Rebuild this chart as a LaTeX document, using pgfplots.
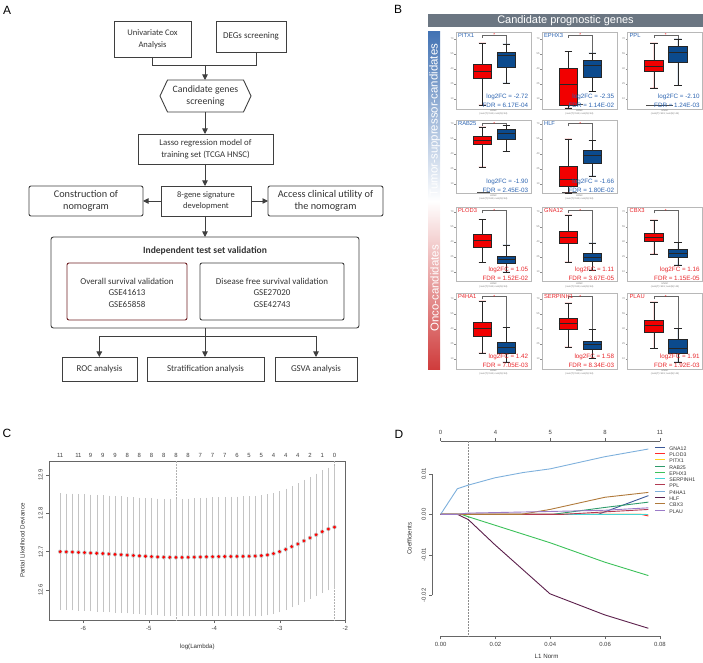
\documentclass[border=0pt]{standalone}
\usepackage{fontspec}
\setmainfont{Liberation Sans}
\newfontfamily\calfont{Carlito}
\usepackage{pgfplots}
\usepackage{pgfplotstable}
\pgfplotsset{compat=1.18}
\usepgfplotslibrary{statistics}
\usetikzlibrary{arrows.meta}

\definecolor{flow}{HTML}{3F3F3F}
\definecolor{ftext}{HTML}{333333}
\definecolor{osred}{HTML}{6E1F22}
\definecolor{hdr}{HTML}{6B7682}
\definecolor{barblue}{HTML}{4373B4}
\definecolor{barred}{HTML}{CF3B3B}
\definecolor{tsblue}{HTML}{2B63B0}
\definecolor{oncored}{HTML}{E8262B}
\definecolor{boxred}{HTML}{F20000}
\definecolor{boxblue}{HTML}{0B4A8D}
\definecolor{errgray}{HTML}{C4C4C4}
\definecolor{cGNA}{HTML}{3B5998}
\definecolor{cPLOD}{HTML}{FF2A2A}
\definecolor{cPITX}{HTML}{FFD21F}
\definecolor{cRAB}{HTML}{2E9B6B}
\definecolor{cEPHX}{HTML}{3CC15A}
\definecolor{cSERP}{HTML}{45D6D6}
\definecolor{cPPL}{HTML}{B23A52}
\definecolor{cP4HA}{HTML}{7EB0DC}
\definecolor{cHLF}{HTML}{5B1F4B}
\definecolor{cCBX}{HTML}{B0793A}
\definecolor{cPLAU}{HTML}{9B7BC8}

\pgfplotstableread{
x y e
-6.352 12.7000 0.148
-6.259 12.6995 0.148
-6.166 12.6990 0.148
-6.073 12.6982 0.148
-5.980 12.6975 0.148
-5.887 12.6966 0.148
-5.794 12.6958 0.148
-5.701 12.6950 0.148
-5.608 12.6940 0.148
-5.515 12.6930 0.148
-5.422 12.6920 0.148
-5.329 12.6910 0.148
-5.236 12.6900 0.148
-5.143 12.6890 0.148
-5.050 12.6880 0.148
-4.957 12.6870 0.148
-4.864 12.6862 0.148
-4.771 12.6856 0.148
-4.678 12.6852 0.148
-4.585 12.6850 0.148
-4.492 12.6851 0.1484
-4.399 12.6853 0.1488
-4.306 12.6857 0.1492
-4.213 12.6861 0.1496
-4.120 12.6865 0.1500
-4.026 12.6868 0.1504
-3.933 12.6871 0.1508
-3.840 12.6873 0.1512
-3.747 12.6875 0.1516
-3.654 12.6877 0.1520
-3.561 12.6879 0.1524
-3.468 12.6882 0.1528
-3.375 12.6886 0.1530
-3.282 12.6895 0.1532
-3.189 12.6915 0.1535
-3.096 12.6950 0.1537
-3.003 12.7000 0.1540
-2.910 12.7060 0.1542
-2.817 12.7130 0.1545
-2.724 12.7200 0.1547
-2.631 12.7280 0.1550
-2.538 12.7360 0.1552
-2.445 12.7440 0.1555
-2.352 12.7520 0.1557
-2.259 12.7590 0.1560
-2.166 12.7640 0.1560
}\cvdata

\pgfplotsset{
 gp/.style={scale only axis, width=75bp, anchor=south west, xmin=0, xmax=1, ymin=0, clip=false,
   axis line style={black!28, line width=0.4bp}, xtick=\empty, ytick={10,25,40,55,70},
   ytick pos=left, tick align=outside, major tick length=1.6bp, tick style={black!45, line width=0.3bp},
   yticklabel style={font=\fontsize{2.6}{3}\selectfont, text=black!55, inner sep=0.6bp},
   /pgf/number format/assume math mode=true},
 rbx/.style={draw=black!85, fill=boxred, line width=0.35bp, solid},
 bbx/.style={draw=black!85, fill=boxblue, line width=0.35bp, solid},
 brk/.style={black!60, line width=0.35bp, mark=none, solid},
}
\tikzset{
 gname/.style={anchor=west, inner sep=0pt, font=\fontsize{5.8}{6}\selectfont},
 fcs/.style={anchor=east, inner sep=0pt, font=\fontsize{6.3}{7}\selectfont},
 sub/.style={anchor=north, inner sep=0pt, yshift=-1bp, align=center, text=black!55, font=\fontsize{2.4}{2.8}\selectfont},
 ast/.style={inner sep=0pt, text=red, font=\fontsize{4.5}{5}\selectfont, yshift=-0.6bp},
}
\newcommand{\RB}[5]{\addplot[rbx, boxplot prepared={draw direction=y, draw position=0.35, box extend=0.25, whisker extend=0.1, median=#1, upper quartile=#2, lower quartile=#3, upper whisker=#4, lower whisker=#5}] coordinates {};}
\newcommand{\BB}[5]{\addplot[bbx, boxplot prepared={draw direction=y, draw position=0.67, box extend=0.25, whisker extend=0.1, median=#1, upper quartile=#2, lower quartile=#3, upper whisker=#4, lower whisker=#5}] coordinates {};}
\newcommand{\BRK}[3]{\addplot[brk] coordinates {(0.35,#2) (0.35,#1) (0.67,#1) (0.67,#3)};\node[ast] at (axis cs:0.51,#1) {*};}
\newcommand{\TXT}[4]{%
 \node[gname, text=#1] at (rel axis cs:0.025,0.955) {#2};
 \node[fcs, text=#1] at (rel axis cs:0.965,0.155) {#3};
 \node[fcs, text=#1] at (rel axis cs:0.965,0.05) {#4};
 \node[sub] at (rel axis cs:0.5,0) {HNSC\\(num(T)=519; num(N)=44)};}

\begin{document}
\begin{tikzpicture}
\begin{scope}[x=1bp,y=1bp]
\useasboundingbox (0,0) rectangle (703,660);
\tikzset{fl/.style={draw=flow, line width=0.9bp},
 ar/.style={draw=flow, line width=0.9bp, -{Triangle[length=5.5bp,width=5.5bp]}},
 ft/.style={text=ftext, align=center, inner sep=0pt, font=\calfont\fontsize{8.8}{11.7}\selectfont}}
% panel letters
\node[font=\fontsize{12}{12}\selectfont] at (7,650) {A};
\node[font=\fontsize{12}{12}\selectfont] at (398,651) {B};
\node[font=\fontsize{12}{12}\selectfont] at (7,227) {C};
\node[font=\fontsize{12}{12}\selectfont] at (399,226) {D};
% ---- flowchart ----
\draw[fl] (114,603) rectangle (191,639);
\node[ft, font=\calfont\fontsize{8.6}{12}\selectfont] at (152.5,621) {Univariate Cox\\Analysis};
\draw[fl] (216,608) rectangle (286,639);
\node[ft, font=\calfont\fontsize{9}{11}\selectfont] at (251,623.5) {DEGs screening};
\draw[fl] (152.5,603) -- (152.5,595) -- (256.7,595) -- (256.7,608);
\draw[ar] (205,595) -- (205,580);
\draw[fl] (160,564) -- (167.5,580) -- (243.5,580) -- (251,564) -- (243.5,548) -- (167.5,548) -- cycle;
\node[ft, font=\calfont\fontsize{9.8}{11.7}\selectfont] at (205.5,564) {Candidate genes\\screening};
\draw[ar] (205,548) -- (205,526);
\draw[fl] (138,496) rectangle (273,526);
\node[ft] at (205.5,511) {Lasso regression model of\\training set (TCGA HNSC)};
\draw[ar] (205,496) -- (205,474);
\draw[fl] (161,444) rectangle (251,474);
\node[ft, font=\calfont\fontsize{8.5}{11.5}\selectfont] at (206,459) {8-gene signature\\development};
\draw[fl, rounded corners=2bp] (29,444) rectangle (143,474);
\node[ft, font=\calfont\fontsize{10.3}{12.3}\selectfont] at (86,459) {Construction of\\nomogram};
\draw[fl, rounded corners=2bp] (268,444) rectangle (383,474);
\node[ft, font=\calfont\fontsize{10.3}{12.3}\selectfont] at (325.5,459) {Access clinical utility of\\the nomogram};
\draw[ar] (161,459) -- (143,459);
\draw[ar] (251,459) -- (268,459);
\draw[ar] (205,444) -- (205,423);
\draw[fl, rounded corners=2.5bp] (51,332) rectangle (359,423);
\node[ft, font=\calfont\bfseries\fontsize{9.6}{11}\selectfont] at (205,409) {Independent test set validation};
\draw[line width=0.9bp, draw=osred, rounded corners=2bp] (67,340) rectangle (187,397);
\node[ft, font=\calfont\fontsize{9}{11.6}\selectfont] at (127,367.5) {Overall survival validation\\GSE41613\\GSE65858};
\draw[fl, rounded corners=2bp] (200,340) rectangle (344,397);
\node[ft, font=\calfont\fontsize{9}{11.6}\selectfont] at (272,367.5) {Disease free survival validation\\GSE27020\\GSE42743};
\draw[fl] (205,332) -- (205,324);
\draw[fl] (99.3,324) -- (316,324);
\draw[ar] (99.3,324) -- (99.3,303);
\draw[ar] (205,324) -- (205,303);
\draw[ar] (316,324) -- (316,303);
\draw[fl] (62,279) rectangle (137,303);
\draw[fl] (147,279) rectangle (264,303);
\draw[fl] (275,279) rectangle (357,303);
\node[ft, font=\calfont\fontsize{9}{11}\selectfont] at (99.5,291) {ROC analysis};
\node[ft, font=\calfont\fontsize{9}{11}\selectfont] at (205.5,291) {Stratification analysis};
\node[ft, font=\calfont\fontsize{9}{11}\selectfont] at (316,291) {GSVA analysis};
% ---- panel B decorations ----
\fill[hdr] (428,633) rectangle (703,646);
\node[text=white, font=\fontsize{11}{12}\selectfont] at (565.5,639.3) {Candidate prognostic genes};
\shade[top color=barblue, bottom color=barred, middle color=white] (428,290) rectangle (440,628);
\node[rotate=90, text=white, inner sep=0pt, font=\fontsize{11.5}{12}\selectfont] at (434.6,540) {Tumor-suppressor-candidates};
\node[rotate=90, text=white, inner sep=0pt, font=\fontsize{11.5}{12}\selectfont] at (434.6,371.5) {Onco-candidates};
\end{scope}

% ---- panel B: row 1 ----
\begin{axis}[gp, at={(456bp,551bp)}, height=77bp, ymax=77]
\RB{37.7}{45}{31}{66}{4.3}
\BB{53.7}{57}{42}{65.3}{26}
\BRK{74.3}{71}{65.3}
\TXT{tsblue}{PITX1}{log2FC = -2.72}{FDR = 6.17E-04}
\end{axis}
\begin{axis}[gp, at={(542bp,551bp)}, height=77bp, ymax=77]
\addplot[black!70, line width=0.6bp] coordinates {(0.25,4.5) (0.55,4.5)};
\RB{25.3}{41}{4.3}{57.7}{1}
\BB{43.7}{49.3}{31.7}{56}{17.7}
\BRK{74.3}{71}{56}
\TXT{tsblue}{EPHX3}{log2FC = -2.35}{FDR = 1.14E-02}
\end{axis}
\begin{axis}[gp, at={(627.5bp,551bp)}, height=77bp, ymax=77]
\addplot[black!70, line width=0.6bp] coordinates {(0.25,3.7) (0.6,3.7)};
\RB{42.7}{48.7}{37.7}{66}{21}
\BB{57}{62.7}{47}{70}{23.7}
\BRK{74.3}{71}{70}
\TXT{tsblue}{PPL}{log2FC = -2.10}{FDR = 1.24E-03}
\end{axis}
% ---- row 2 ----
\begin{axis}[gp, at={(456bp,466.3bp)}, height=73.4bp, ymax=73.4]
\addplot[black!70, line width=0.6bp] coordinates {(0.28,1.7) (0.45,1.7)};
\RB{53.4}{57.7}{49.4}{66.7}{26.7}
\BB{61}{64.4}{55}{68.4}{42.4}
\BRK{70.7}{67.4}{68.4}
\TXT{tsblue}{RAB25}{log2FC = -1.90}{FDR = 2.45E-03}
\end{axis}
\begin{axis}[gp, at={(542bp,466.3bp)}, height=73.4bp, ymax=73.4]
\addplot[black!70, line width=0.6bp] coordinates {(0.27,1.5) (0.46,1.5)};
\RB{15}{27.4}{7.7}{55}{1}
\BB{38.4}{43.4}{30.7}{53.4}{17.7}
\BRK{70.7}{67.4}{53.4}
\TXT{tsblue}{HLF}{log2FC = -1.66}{FDR = 1.80E-02}
\end{axis}
% ---- row 3 ----
\begin{axis}[gp, at={(456bp,378.3bp)}, height=74.4bp, ymax=74.4]
\RB{41.7}{47.4}{35}{62.4}{19.4}
\BB{22.4}{25.7}{18.4}{36.7}{10}
\BRK{71.7}{68.4}{36.7}
\TXT{oncored}{PLOD3}{log2FC = 1.05}{FDR = 1.52E-02}
\end{axis}
\begin{axis}[gp, at={(542bp,378.3bp)}, height=74.4bp, ymax=74.4]
\RB{45}{50.7}{38.4}{66.7}{20}
\BB{24.4}{28.4}{20.7}{39}{11.7}
\BRK{71.7}{68.4}{39}
\TXT{oncored}{GNA12}{log2FC = 1.11}{FDR = 3.67E-05}
\end{axis}
\begin{axis}[gp, at={(627.5bp,378.3bp)}, height=74.4bp, ymax=74.4]
\RB{45}{49}{40.7}{61.7}{27.7}
\BB{29}{32.4}{25}{39.4}{16.7}
\BRK{71.7}{68.4}{39.4}
\TXT{oncored}{CBX3}{log2FC = 1.16}{FDR = 1.15E-05}
\end{axis}
% ---- row 4 ----
\begin{axis}[gp, at={(456bp,291bp)}, height=75.7bp, ymax=75.7]
\RB{40.7}{47.3}{33.3}{68}{16}
\BB{21.7}{27.3}{16.3}{41.7}{7.3}
\BRK{73}{69.7}{41.7}
\TXT{oncored}{P4HA1}{log2FC = 1.42}{FDR = 7.05E-03}
\end{axis}
\begin{axis}[gp, at={(542bp,291bp)}, height=75.7bp, ymax=75.7]
\RB{45.7}{50.7}{39.7}{66}{22.3}
\BB{25}{28}{20}{39.7}{10.7}
\BRK{73}{69.7}{39.7}
\TXT{oncored}{SERPINH1}{log2FC = 1.58}{FDR = 8.34E-03}
\end{axis}
\begin{axis}[gp, at={(627.5bp,291bp)}, height=75.7bp, ymax=75.7]
\RB{44}{49}{36.7}{67}{20.7}
\BB{20.7}{29.7}{16.3}{40.7}{7.3}
\BRK{73}{69.7}{40.7}
\TXT{oncored}{PLAU}{log2FC = 1.91}{FDR = 1.92E-03}
\end{axis}

% ---- panel C ----
\begin{axis}[scale only axis, width=296bp, height=159bp, at={(49.3bp,40bp)}, anchor=south west,
  xmin=-6.518, xmax=-2.0, ymin=12.5217, ymax=12.9365,
  xtick={-6,-5,-4,-3,-2}, ytick={12.6,12.7,12.8,12.9},
  xtick pos=bottom, ytick pos=left, tick align=outside, major tick length=3bp,
  axis line style={black!60, line width=0.5bp}, tick style={black!60, line width=0.5bp},
  /pgf/number format/assume math mode=true,
  ticklabel style={font=\fontsize{6}{7}\selectfont, text=black!75},
  yticklabel style={rotate=90, anchor=south, /pgf/number format/fixed, /pgf/number format/fixed zerofill, /pgf/number format/precision=1},
  xlabel={log(Lambda)}, ylabel={Partial Likelihood Deviance},
  label style={font=\fontsize{6.2}{7}\selectfont, text=black!80},
  xlabel style={at={(axis description cs:0.5,-0.17)}, anchor=center},
  ylabel style={at={(axis description cs:-0.0912,0.5)}, anchor=center},
  clip=false]
\addplot[black!30, densely dotted, line width=0.5bp] coordinates {(-4.585,12.5217) (-4.585,12.9365)};
\addplot[black!30, densely dotted, line width=0.5bp] coordinates {(-2.166,12.5217) (-2.166,12.9365)};
\addplot[color=errgray, only marks, mark=none, line width=0.35bp,
  error bars/.cd, y dir=both, y explicit,
  error bar style={draw=errgray, line width=0.35bp, solid},
  error mark options={draw=errgray, line width=0.35bp, mark size=1.6bp}]
  table[x=x, y=y, y error=e] {\cvdata};
\addplot[color=red, only marks, mark=*, mark size=1.25bp, mark options={draw=red, fill=red}]
  table[x=x, y=y] {\cvdata};
\end{axis}
\begin{axis}[scale only axis, width=296bp, height=159bp, at={(49.3bp,40bp)}, anchor=south west,
  xmin=-6.518, xmax=-2.0, ymin=0, ymax=1, axis x line*=top, axis y line=none,
  x axis line style={draw=none}, major tick length=0pt, tick style={draw=none},
  xtick={-6.352,-6.073,-5.887,-5.701,-5.515,-5.329,-5.143,-4.957,-4.771,-4.585,-4.399,-4.213,-4.026,-3.840,-3.654,-3.468,-3.282,-3.096,-2.910,-2.724,-2.538,-2.352,-2.166},
  xticklabels={11,11,9,9,9,8,8,8,8,8,8,7,7,7,6,5,5,4,4,4,2,1,0},
  ticklabel style={font=\fontsize{6}{7}\selectfont, text=black!75}]
\end{axis}

% ---- panel D ----
\begin{axis}[scale only axis, width=228.3bp, height=195.1bp, at={(432.4bp,24bp)}, anchor=south west,
  xmin=-0.003, xmax=0.0803, ymin=-0.030, ymax=0.0181,
  axis line style={draw=none}, xtick pos=bottom, ytick pos=left, tick align=outside, major tick length=3bp,
  tick style={black!60, line width=0.5bp},
  xtick={0,0.02,0.04,0.06,0.08}, ytick={-0.02,-0.01,0,0.01}, scaled ticks=false,
  /pgf/number format/assume math mode=true,
  /pgf/number format/fixed, /pgf/number format/fixed zerofill, /pgf/number format/precision=2,
  ticklabel style={font=\fontsize{6}{7}\selectfont, text=black!75},
  yticklabel style={rotate=90, anchor=south},
  xlabel={L1 Norm}, ylabel={Coefficients},
  label style={font=\fontsize{6.2}{7}\selectfont, text=black!80},
  xlabel style={at={(axis description cs:0.5,-0.106)}, anchor=center},
  ylabel style={at={(axis description cs:-0.1007,0.5)}, anchor=center},
  clip=false,
  legend style={at={(axis description cs:0.975,0.9744)}, anchor=north west, draw=none, fill=none,
    inner sep=0pt, outer sep=0pt, font=\fontsize{5.2}{5.5}\selectfont, row sep=0pt,
    nodes={inner sep=0pt, text height=4.3bp, text depth=2bp, text=black!80},
    /tikz/every odd column/.append style={column sep=3.5bp}},
  legend cell align=left,
  legend image code/.code={\draw[#1, line width=0.9bp] (0bp,1.9bp) -- (10bp,1.9bp);}]
\draw[black!60, line width=0.5bp] (axis cs:0,-0.030) -- (axis cs:0.08,-0.030);
\draw[black!60, line width=0.5bp] (axis cs:-0.003,-0.02) -- (axis cs:-0.003,0.01);
\draw[black!60, line width=0.5bp] (axis cs:0,0.0181) -- (axis cs:0.08,0.0181);
\addplot[forget plot, black!45, densely dotted, line width=0.5bp] coordinates {(0.0101,-0.030) (0.0101,0.0181)};
\addplot[cGNA, line width=0.9bp] coordinates {(0,0) (0.0575,0) (0.0758,0.0046)};
\addlegendentry{GNA12}
\addplot[cPLOD, line width=0.9bp] coordinates {(0,0) (0.073,0) (0.0758,-0.0004)};
\addlegendentry{PLOD3}
\addplot[cPITX, line width=0.9bp] coordinates {(0,0) (0.0745,0) (0.0758,-0.0001)};
\addlegendentry{PITX1}
\addplot[cRAB, line width=0.9bp] coordinates {(0,0) (0.041,0) (0.06,0.0017) (0.0758,0.0030)};
\addlegendentry{RAB25}
\addplot[cEPHX, line width=0.9bp] coordinates {(0,0) (0.0075,0) (0.0101,-0.0006) (0.0399,-0.0070) (0.0599,-0.0118) (0.0758,-0.0151)};
\addlegendentry{EPHX3}
\addplot[cSERP, line width=0.9bp] coordinates {(0,0) (0.0758,0)};
\addlegendentry{SERPINH1}
\addplot[cPPL, line width=0.9bp] coordinates {(0,0) (0.045,0) (0.06,0.0006) (0.0758,0.0012)};
\addlegendentry{PPL}
\addplot[cP4HA, line width=0.9bp] coordinates {(0,0) (0.0061,0.0063) (0.0101,0.0072) (0.0198,0.0090) (0.0301,0.0103) (0.0399,0.0112) (0.0599,0.0142) (0.0758,0.0161)};
\addlegendentry{P4HA1}
\addplot[cHLF, line width=0.9bp] coordinates {(0,0) (0.0061,0) (0.0101,-0.0013) (0.0198,-0.0075) (0.0301,-0.0137) (0.0399,-0.0196) (0.0599,-0.0248) (0.0758,-0.0281)};
\addlegendentry{HLF}
\addplot[cCBX, line width=0.9bp] coordinates {(0,0) (0.0295,0) (0.0399,0.0012) (0.0599,0.0042) (0.0758,0.0054)};
\addlegendentry{CBX3}
\addplot[cPLAU, line width=0.9bp] coordinates {(0,0) (0.0061,0) (0.0101,0.0003) (0.0399,0.0007) (0.0599,0.0010) (0.0758,0.0016)};
\addlegendentry{PLAU}
\end{axis}
\begin{axis}[scale only axis, width=228.3bp, height=195.1bp, at={(432.4bp,24bp)}, anchor=south west,
  xmin=-0.003, xmax=0.0803, ymin=0, ymax=1, axis x line*=top, axis y line=none,
  x axis line style={draw=none}, tick align=outside, major tick length=3bp, scaled ticks=false,
  tick style={black!60, line width=0.5bp},
  xtick={0,0.02,0.04,0.06,0.08}, xticklabels={0,4,5,8,11},
  ticklabel style={font=\fontsize{6}{7}\selectfont, text=black!75}]
\end{axis}
\end{tikzpicture}
\end{document}
